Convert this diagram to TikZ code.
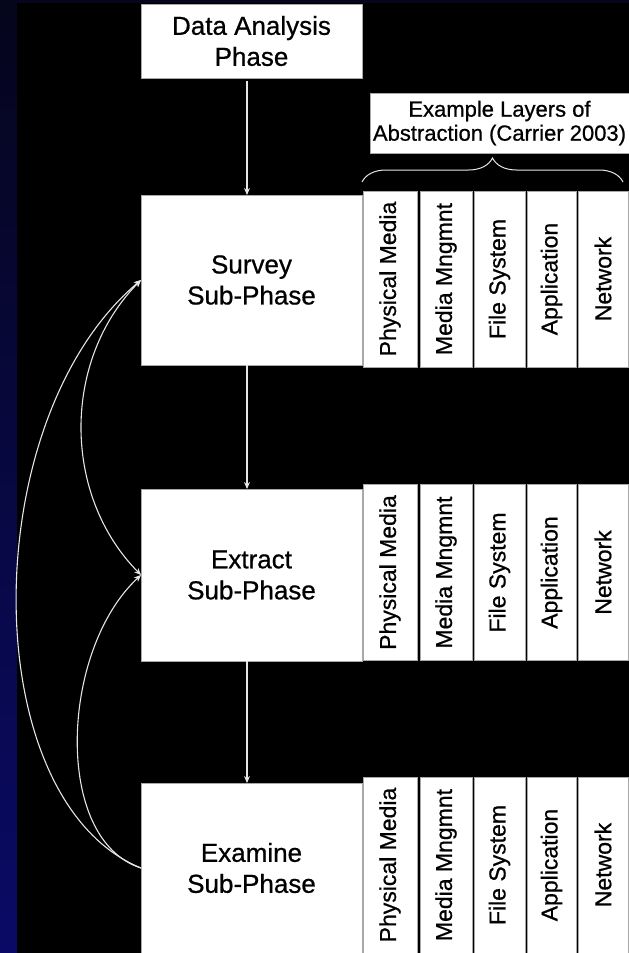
\documentclass[tikz,border=0pt]{standalone}
\usepackage{fontspec}
\setmainfont{Liberation Sans}[BoldFont=Liberation Sans, BoldFeatures={FakeBold=0.7}]
\usetikzlibrary{arrows.meta,decorations.pathreplacing}
\definecolor{bgtop}{HTML}{05051C}
\definecolor{bgbot}{HTML}{0A0A66}
\definecolor{boxgray}{HTML}{A8A8A8}
\definecolor{linegray}{HTML}{E6E6E6}
\begin{document}
\begin{tikzpicture}[x=1pt,y=-1pt,
  box/.style={draw=boxgray, line width=0.8pt, fill=white, inner sep=0pt, outer sep=0pt,
    align=center, text=black, font=\fontsize{26}{31}\selectfont\bfseries},
  layer/.style={draw=boxgray, line width=0.8pt, fill=white, inner sep=0pt, outer sep=0pt,
    rotate=90, text=black, font=\fontsize{23}{27}\selectfont\bfseries, minimum width=176pt},
  arr/.style={draw=linegray, line width=1.1pt, -{Stealth[length=7pt,width=6pt]}},
  arrboth/.style={draw=linegray, line width=1.1pt, {Stealth[length=7pt,width=6pt]}-{Stealth[length=7pt,width=6pt]}}
]
\useasboundingbox (0,0) rectangle (629,953);
\fill[black] (0,0) rectangle (629,953);
\shade[top color=bgtop, bottom color=bgbot] (0,0) rectangle (17,953);
\fill[bgtop] (17,0) rectangle (629,3);

% main boxes
\node[box, minimum width=221pt, minimum height=74pt] (da) at (251.5,41) {Data Analysis\\Phase};
\node[box, minimum width=221pt, minimum height=170pt] (survey) at (251.5,280) {Survey\\Sub-Phase};
\node[box, minimum width=221pt, minimum height=172pt] (extract) at (251.5,575) {Extract\\Sub-Phase};
\node[box, minimum width=221pt, minimum height=170pt] (examine) at (251.5,868) {Examine\\Sub-Phase};

% label
\node[box, minimum width=259pt, minimum height=60pt, font=\fontsize{22}{24}\selectfont\bfseries] (lbl) at (499.5,123) {Example Layers of\\Abstraction (Carrier 2003)};
\draw[linegray, line width=1pt, decorate, decoration={brace, amplitude=24pt}] (362,182) -- (623,182);

% layer columns
\foreach \r/\yc in {s/279, x/572.5, e/865}{
  \foreach \i/\xc/\w/\t in {1/390/54/Physical Media, 2/446/52/Media Mngmnt, 3/499.5/51/File System, 4/551.5/49/Application, 5/603/50/Network}{
    \node[layer, minimum height=\w pt] (\r\i) at (\xc,\yc) {\t};
  }
}

% vertical arrows
\draw[arr] ([xshift=-4.5pt,yshift=-3pt]da.south) -- ([xshift=-4.5pt]survey.north);
\draw[arr] ([xshift=-4.5pt]survey.south) -- ([xshift=-4.5pt]extract.north);
\draw[arr] ([xshift=-4.5pt]extract.south) -- ([xshift=-4.5pt]examine.north);

% feedback curves
\draw[arr] (examine.west) .. controls (-25,800) and (-25,420) .. (survey.west);
\draw[arr] (examine.west) .. controls (53,840) and (60,650) .. (extract.west);
\draw[arrboth] (survey.west) .. controls (62,360) and (62,495) .. (extract.west);
\end{tikzpicture}
\end{document}
